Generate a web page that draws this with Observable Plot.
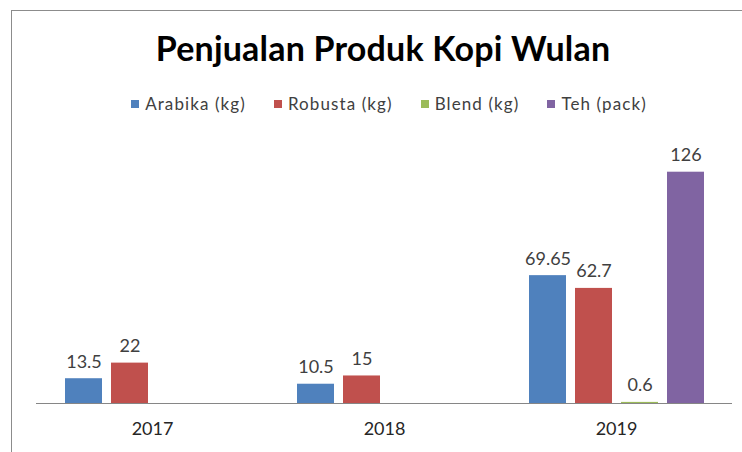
<!DOCTYPE html>
<html>
<head>
<meta charset="utf-8">
<script src="https://cdn.jsdelivr.net/npm/d3@7"></script>
<script src="https://cdn.jsdelivr.net/npm/@observablehq/plot@0.6"></script>
<style>
  html, body { margin: 0; padding: 0; background: #fff; }
  #wrap { position: relative; width: 742px; height: 452px; overflow: hidden; font-family: Lato, "Open Sans", sans-serif; }
  #frame { position: absolute; left: 11px; top: 10px; width: 800px; height: 500px; border: 1px solid #8c8c8c; box-sizing: border-box; }
  #title { position: absolute; left: 0; width: 766px; top: 26px; text-align: center; font-size: 34px; font-weight: 700; color: #000; line-height: 44px; letter-spacing: 0.2px; }
  #legend { position: absolute; left: 0; width: 778px; top: 93px; display: flex; justify-content: center; gap: 28px; font-size: 17px; color: #404040; letter-spacing: 1.1px; line-height: 22px; }
  #legend .item { display: flex; align-items: center; }
  #legend .sw { width: 8px; height: 8px; margin-right: 6px; }
  #chart { position: absolute; left: 0; top: 130px; }
</style>
</head>
<body>
<div id="wrap">
  <div id="frame"></div>
  <div id="title"></div>
  <div id="legend"></div>
  <div id="chart"></div>
</div>
<script>
const titleText = "Penjualan Produk Kopi Wulan";
const years = ["2017", "2018", "2019"];
const series = ["Arabika (kg)", "Robusta (kg)", "Blend (kg)", "Teh (pack)"];
const colors = ["#4F81BD", "#C0504D", "#9BBB59", "#8064A2"];
const arabika = [13.5, 10.5, 69.65];
const robusta = [22, 15, 62.7];
const blend = [null, null, 0.6];
const teh = [null, null, 126];

const seriesValues = [arabika, robusta, blend, teh];
const data = [];
years.forEach((yr, i) => {
  series.forEach((s, j) => {
    const v = seriesValues[j][i];
    if (v != null) data.push({year: yr, series: s, value: v});
  });
});

document.getElementById("title").textContent = titleText;
const legend = document.getElementById("legend");
series.forEach((s, j) => {
  const item = document.createElement("div");
  item.className = "item";
  const sw = document.createElement("span");
  sw.className = "sw";
  sw.style.background = colors[j];
  const lab = document.createElement("span");
  lab.textContent = s;
  item.appendChild(sw);
  item.appendChild(lab);
  legend.appendChild(item);
});

const chart = Plot.plot({
  width: 742,
  height: 322,
  marginLeft: 35,
  marginRight: 9,
  marginTop: 16,
  marginBottom: 49,
  style: { fontFamily: "Lato, 'Open Sans', sans-serif", background: "transparent" },
  fx: { domain: years, padding: 0 },
  x: { domain: series, axis: null, paddingInner: 0.2, paddingOuter: 0.58 },
  y: { domain: [0, 140], axis: null },
  color: { domain: series, range: colors },
  marks: [
    Plot.barY(data, { fx: "year", x: "series", y: "value", fill: "series" }),
    Plot.text(data, { fx: "year", x: "series", y: "value", text: d => String(d.value), lineAnchor: "bottom", dy: -11, fontSize: 18, fill: "#404040" }),
    Plot.ruleY([0], { stroke: "#868686", strokeWidth: 1 }),
    Plot.axisFx({ anchor: "bottom", tickSize: 0, tickPadding: 19, fontSize: 18, color: "#262626", label: null })
  ]
});
document.getElementById("chart").appendChild(chart);
</script>
</body>
</html>
